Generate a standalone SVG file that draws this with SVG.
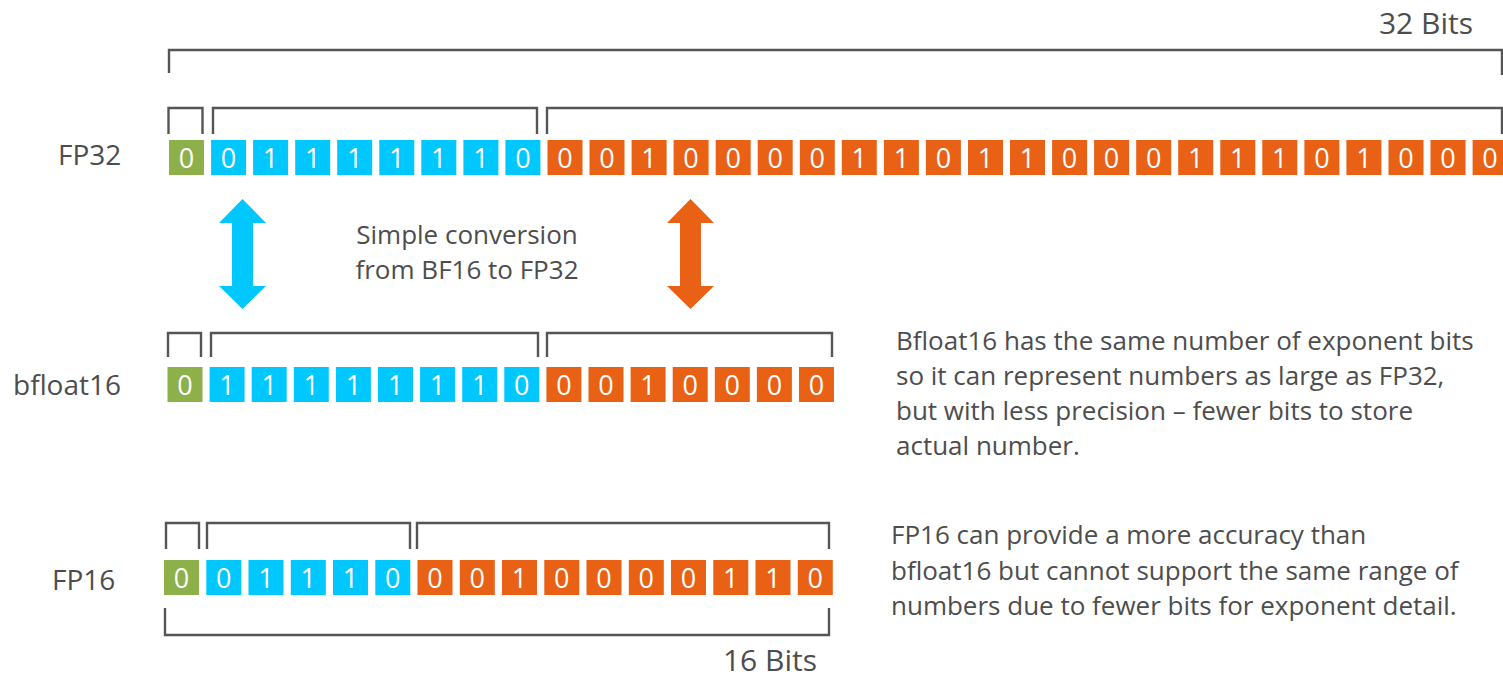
<svg xmlns="http://www.w3.org/2000/svg" width="1503" height="678" viewBox="0 0 1503 678">
  <style>
    .s{fill:#8db04a}
    .e{fill:#00c7fd}
    .m{fill:#e96115}
    .d{font-family:"Open Sans","Liberation Sans",sans-serif;font-size:27px;fill:#ffffff;text-anchor:middle}
    .br{fill:none;stroke:#555555;stroke-width:2.4}
    .t{font-family:"Open Sans","Liberation Sans",sans-serif;fill:#4d4d4d}
    .lbl{font-size:28px}
    .bits{font-size:30px;text-anchor:end}
    .note{font-size:26px}
    .mid{text-anchor:middle;font-size:26px}
  </style>
  <rect width="1503" height="678" fill="#ffffff"/>

  <!-- 32-bit span -->
  <g id="span32">
    <path class="br" d="M169,73 V50 H1502 V75"/>
    <text class="t bits" x="1473" y="34">32 Bits</text>
  </g>

  <!-- FP32: 1 sign, 8 exponent, 23 mantissa bits -->
  <g id="fp32">
    <text class="t lbl" x="58" y="165">FP32</text>
    <path class="br" d="M168.5,134 V108 H202.5 V134 M213,134 V108 H537 V134 M547,134 V108 H1502 V134"/>
    <rect class="s" x="169" y="140" width="35" height="35"/>
    <rect class="e" x="211.1" y="140" width="35" height="35"/>
    <rect class="e" x="253.1" y="140" width="35" height="35"/>
    <rect class="e" x="295.2" y="140" width="35" height="35"/>
    <rect class="e" x="337.2" y="140" width="35" height="35"/>
    <rect class="e" x="379.3" y="140" width="35" height="35"/>
    <rect class="e" x="421.3" y="140" width="35" height="35"/>
    <rect class="e" x="463.4" y="140" width="35" height="35"/>
    <rect class="e" x="505.4" y="140" width="35" height="35"/>
    <rect class="m" x="547.5" y="140" width="35" height="35"/>
    <rect class="m" x="589.5" y="140" width="35" height="35"/>
    <rect class="m" x="631.6" y="140" width="35" height="35"/>
    <rect class="m" x="673.6" y="140" width="35" height="35"/>
    <rect class="m" x="715.7" y="140" width="35" height="35"/>
    <rect class="m" x="757.7" y="140" width="35" height="35"/>
    <rect class="m" x="799.8" y="140" width="35" height="35"/>
    <rect class="m" x="841.8" y="140" width="35" height="35"/>
    <rect class="m" x="883.9" y="140" width="35" height="35"/>
    <rect class="m" x="925.9" y="140" width="35" height="35"/>
    <rect class="m" x="968" y="140" width="35" height="35"/>
    <rect class="m" x="1010" y="140" width="35" height="35"/>
    <rect class="m" x="1052.1" y="140" width="35" height="35"/>
    <rect class="m" x="1094.1" y="140" width="35" height="35"/>
    <rect class="m" x="1136.2" y="140" width="35" height="35"/>
    <rect class="m" x="1178.2" y="140" width="35" height="35"/>
    <rect class="m" x="1220.3" y="140" width="35" height="35"/>
    <rect class="m" x="1262.3" y="140" width="35" height="35"/>
    <rect class="m" x="1304.4" y="140" width="35" height="35"/>
    <rect class="m" x="1346.4" y="140" width="35" height="35"/>
    <rect class="m" x="1388.5" y="140" width="35" height="35"/>
    <rect class="m" x="1430.5" y="140" width="35" height="35"/>
    <rect class="m" x="1472.6" y="140" width="35" height="35"/>
    <g class="d">
      <text x="186.5" y="168">0</text>
      <text x="228.6" y="168">0</text>
      <text x="270.6" y="168">1</text>
      <text x="312.7" y="168">1</text>
      <text x="354.7" y="168">1</text>
      <text x="396.8" y="168">1</text>
      <text x="438.8" y="168">1</text>
      <text x="480.9" y="168">1</text>
      <text x="522.9" y="168">0</text>
      <text x="565" y="168">0</text>
      <text x="607" y="168">0</text>
      <text x="649.1" y="168">1</text>
      <text x="691.1" y="168">0</text>
      <text x="733.2" y="168">0</text>
      <text x="775.2" y="168">0</text>
      <text x="817.3" y="168">0</text>
      <text x="859.3" y="168">1</text>
      <text x="901.4" y="168">1</text>
      <text x="943.4" y="168">0</text>
      <text x="985.5" y="168">1</text>
      <text x="1027.5" y="168">1</text>
      <text x="1069.6" y="168">0</text>
      <text x="1111.6" y="168">0</text>
      <text x="1153.7" y="168">0</text>
      <text x="1195.7" y="168">1</text>
      <text x="1237.8" y="168">1</text>
      <text x="1279.8" y="168">1</text>
      <text x="1321.9" y="168">0</text>
      <text x="1363.9" y="168">1</text>
      <text x="1406" y="168">0</text>
      <text x="1448" y="168">0</text>
      <text x="1490.1" y="168">0</text>
    </g>
  </g>

  <!-- bfloat16: 1 sign, 8 exponent, 7 mantissa bits -->
  <g id="bfloat16">
    <text class="t lbl" x="13" y="395">bfloat16</text>
    <path class="br" d="M168,357 V333 H201 V357 M211,357 V333 H538 V357 M547,357 V333 H832 V357"/>
    <rect class="s" x="167.5" y="367" width="35" height="35"/>
    <rect class="e" x="209.6" y="367" width="35" height="35"/>
    <rect class="e" x="251.7" y="367" width="35" height="35"/>
    <rect class="e" x="293.8" y="367" width="35" height="35"/>
    <rect class="e" x="335.9" y="367" width="35" height="35"/>
    <rect class="e" x="378" y="367" width="35" height="35"/>
    <rect class="e" x="420.1" y="367" width="35" height="35"/>
    <rect class="e" x="462.2" y="367" width="35" height="35"/>
    <rect class="e" x="504.3" y="367" width="35" height="35"/>
    <rect class="m" x="546.4" y="367" width="35" height="35"/>
    <rect class="m" x="588.5" y="367" width="35" height="35"/>
    <rect class="m" x="630.6" y="367" width="35" height="35"/>
    <rect class="m" x="672.7" y="367" width="35" height="35"/>
    <rect class="m" x="714.8" y="367" width="35" height="35"/>
    <rect class="m" x="756.9" y="367" width="35" height="35"/>
    <rect class="m" x="799" y="367" width="35" height="35"/>
    <g class="d">
      <text x="185" y="395">0</text>
      <text x="227.1" y="395">1</text>
      <text x="269.2" y="395">1</text>
      <text x="311.3" y="395">1</text>
      <text x="353.4" y="395">1</text>
      <text x="395.5" y="395">1</text>
      <text x="437.6" y="395">1</text>
      <text x="479.7" y="395">1</text>
      <text x="521.8" y="395">0</text>
      <text x="563.9" y="395">0</text>
      <text x="606" y="395">0</text>
      <text x="648.1" y="395">1</text>
      <text x="690.2" y="395">0</text>
      <text x="732.3" y="395">0</text>
      <text x="774.4" y="395">0</text>
      <text x="816.5" y="395">0</text>
    </g>
  </g>

  <!-- FP16: 1 sign, 5 exponent, 10 mantissa bits -->
  <g id="fp16">
    <text class="t lbl" x="52" y="590">FP16</text>
    <path class="br" d="M166,549 V523 H199 V549 M207,549 V523 H410 V549 M417,549 V523 H829 V549"/>
    <rect class="s" x="164" y="560" width="35" height="35"/>
    <rect class="e" x="206.3" y="560" width="35" height="35"/>
    <rect class="e" x="248.5" y="560" width="35" height="35"/>
    <rect class="e" x="290.8" y="560" width="35" height="35"/>
    <rect class="e" x="333" y="560" width="35" height="35"/>
    <rect class="e" x="375.3" y="560" width="35" height="35"/>
    <rect class="m" x="417.5" y="560" width="35" height="35"/>
    <rect class="m" x="459.8" y="560" width="35" height="35"/>
    <rect class="m" x="502" y="560" width="35" height="35"/>
    <rect class="m" x="544.3" y="560" width="35" height="35"/>
    <rect class="m" x="586.5" y="560" width="35" height="35"/>
    <rect class="m" x="628.8" y="560" width="35" height="35"/>
    <rect class="m" x="671" y="560" width="35" height="35"/>
    <rect class="m" x="713.3" y="560" width="35" height="35"/>
    <rect class="m" x="755.5" y="560" width="35" height="35"/>
    <rect class="m" x="797.8" y="560" width="35" height="35"/>
    <g class="d">
      <text x="181.5" y="588">0</text>
      <text x="223.8" y="588">0</text>
      <text x="266" y="588">1</text>
      <text x="308.3" y="588">1</text>
      <text x="350.5" y="588">1</text>
      <text x="392.8" y="588">0</text>
      <text x="435" y="588">0</text>
      <text x="477.3" y="588">0</text>
      <text x="519.5" y="588">1</text>
      <text x="561.8" y="588">0</text>
      <text x="604" y="588">0</text>
      <text x="646.3" y="588">0</text>
      <text x="688.5" y="588">0</text>
      <text x="730.8" y="588">1</text>
      <text x="773" y="588">1</text>
      <text x="815.3" y="588">0</text>
    </g>
  </g>

  <!-- 16-bit span -->
  <g id="span16">
    <path class="br" d="M165,608 V635 H829 V608"/>
    <text class="t bits" x="817" y="671">16 Bits</text>
  </g>

  <!-- two-way arrows between FP32 and bfloat16 -->
  <g id="connectors">
    <polygon fill="#00c7fd" points="242.5,199 266,223 253,223 253,286 266,286 242.5,309 219,286 232,286 232,223 219,223"/>
    <polygon fill="#e96115" points="690.5,199 714,223 701,223 701,286 714,286 690.5,309 667,286 680,286 680,223 667,223"/>
  </g>

  <g id="conversion-note">
    <text class="t mid" x="467" y="244">Simple conversion</text>
    <text class="t mid" x="467" y="279">from BF16 to FP32</text>
  </g>

  <g id="bfloat16-note" class="t note">
    <text x="896" y="350">Bfloat16 has the same number of exponent bits</text>
    <text x="896" y="385">so it can represent numbers as large as FP32,</text>
    <text x="896" y="420">but with less precision – fewer bits to store</text>
    <text x="896" y="455">actual number.</text>
  </g>

  <g id="fp16-note" class="t note">
    <text x="891" y="544">FP16 can provide a more accuracy than</text>
    <text x="891" y="580">bfloat16 but cannot support the same range of</text>
    <text x="891" y="615">numbers due to fewer bits for exponent detail.</text>
  </g>
</svg>
